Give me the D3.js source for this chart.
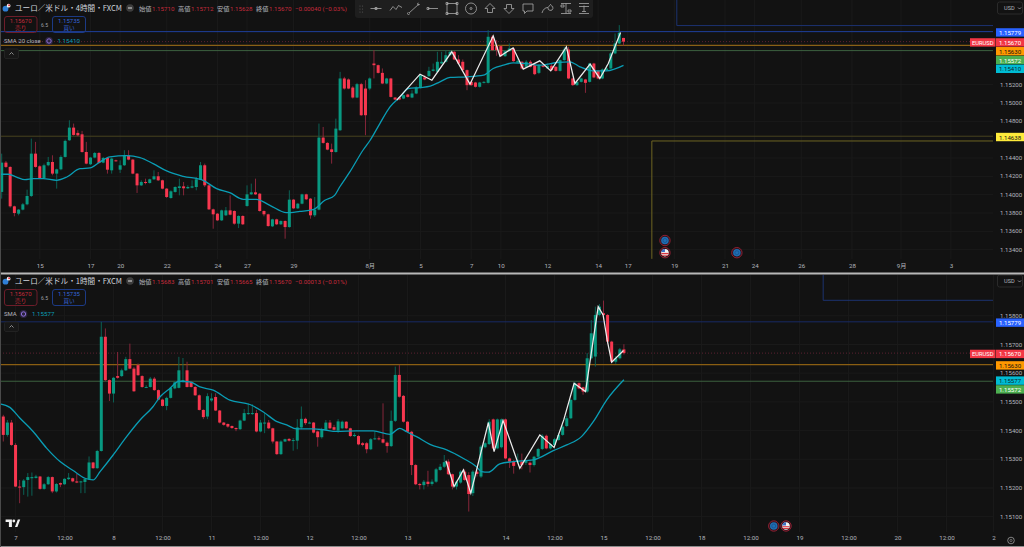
<!DOCTYPE html>
<html>
<head>
<meta charset="utf-8">
<script src="https://cdn.jsdelivr.net/npm/d3@7.9.0/dist/d3.min.js"></script>
<style>
  html, body { margin: 0; padding: 0; background: #121212; overflow: hidden; }
  svg { display: block; }
  text { font-family: Roboto, "Noto Sans CJK JP", sans-serif; }
  .jp { font-family: "Noto Sans CJK JP", sans-serif; }
</style>
</head>
<body>
<svg id="chart" width="1024" height="547"></svg>
<script>
// open, high, low, close
const candles4h = [
  [1.14030,1.14448,1.13957,1.14350],[1.14350,1.14368,1.14292,1.14303],[1.14303,1.14310,1.13859,1.13873],[1.13873,1.13880,1.13764,1.13800],
  [1.13793,1.13844,1.13775,1.13837],[1.13837,1.13910,1.13829,1.13895],[1.13895,1.14055,1.13884,1.13986],[1.13986,1.14612,1.13975,1.14448],
  [1.14448,1.14576,1.14295,1.14303],[1.14310,1.14321,1.14175,1.14182],[1.14182,1.14339,1.14175,1.14321],[1.14321,1.14412,1.14310,1.14357],
  [1.14357,1.14430,1.14212,1.14230],[1.14230,1.14284,1.14066,1.14277],[1.14277,1.14430,1.14266,1.14412],[1.14412,1.14601,1.14405,1.14587],
  [1.14594,1.14812,1.14587,1.14732],[1.14732,1.14776,1.14645,1.14652],[1.14674,1.14703,1.14637,1.14648],[1.14659,1.14696,1.14459,1.14466],
  [1.14466,1.14576,1.14332,1.14339],[1.14332,1.14412,1.14324,1.14405],[1.14405,1.14466,1.14397,1.14455],[1.14455,1.14466,1.14339,1.14346],
  [1.14350,1.14412,1.14343,1.14401],[1.14401,1.14412,1.14230,1.14273],[1.14266,1.14405,1.14230,1.14394],[1.14375,1.14383,1.14361,1.14368],
  [1.14273,1.14375,1.14237,1.14321],[1.14321,1.14485,1.14314,1.14423],[1.14430,1.14485,1.14375,1.14383],[1.14383,1.14390,1.14223,1.14230],
  [1.14230,1.14237,1.14019,1.14102],[1.14102,1.14157,1.14095,1.14139],[1.14139,1.14175,1.14113,1.14128],[1.14128,1.14175,1.14121,1.14168],
  [1.14168,1.14266,1.14161,1.14201],[1.14201,1.14248,1.14150,1.14157],[1.14157,1.14164,1.14059,1.14066],[1.14066,1.14073,1.13964,1.13975],
  [1.13964,1.14048,1.13957,1.14037],[1.14030,1.14091,1.14022,1.14084],[1.14073,1.14175,1.13993,1.14091],[1.14091,1.14139,1.13993,1.14070],
  [1.14070,1.14102,1.14062,1.14084],[1.14077,1.14157,1.14070,1.14091],[1.14084,1.14193,1.14048,1.14168],[1.14164,1.14357,1.14157,1.14321],
  [1.14321,1.14339,1.14084,1.14102],[1.14102,1.14110,1.13833,1.13840],[1.13840,1.13848,1.13629,1.13786],[1.13793,1.13800,1.13713,1.13720],
  [1.13720,1.13837,1.13713,1.13829],[1.13775,1.13866,1.13768,1.13829],[1.13829,1.13993,1.13775,1.13782],[1.13822,1.13829,1.13673,1.13684],
  [1.13684,1.13775,1.13636,1.13768],[1.13768,1.13775,1.13669,1.13677],[1.13877,1.14102,1.13869,1.14004],[1.14004,1.14121,1.13997,1.14026],
  [1.14026,1.14175,1.13997,1.14004],[1.14011,1.14019,1.13815,1.13822],[1.13822,1.13829,1.13764,1.13786],[1.13786,1.13793,1.13651,1.13658],
  [1.13655,1.13738,1.13647,1.13731],[1.13731,1.13738,1.13669,1.13677],[1.13677,1.13720,1.13669,1.13713],[1.13713,1.13720,1.13520,1.13647],
  [1.13647,1.14048,1.13640,1.13946],[1.13946,1.13953,1.13844,1.13851],[1.13851,1.13910,1.13844,1.13902],[1.13902,1.14011,1.13895,1.14004],
  [1.14004,1.14011,1.13942,1.13950],[1.13957,1.13964,1.13738,1.13775],[1.13775,1.13975,1.13757,1.13837],[1.13837,1.14776,1.13829,1.14623],
  [1.14623,1.14739,1.14557,1.14565],[1.14565,1.14572,1.14485,1.14492],[1.14495,1.14557,1.14339,1.14466],[1.14466,1.14830,1.14459,1.14721],
  [1.14703,1.15340,1.14696,1.15268],[1.15268,1.15286,1.15147,1.15158],[1.15257,1.15268,1.15151,1.15158],[1.15169,1.15184,1.15049,1.15060],
  [1.15060,1.15220,1.15053,1.15206],[1.15206,1.15220,1.14860,1.14867],[1.15158,1.15249,1.14649,1.14867],[1.15158,1.15279,1.15140,1.15268],
  [1.15431,1.15577,1.15268,1.15413],[1.15413,1.15420,1.15322,1.15329],[1.15329,1.15377,1.15206,1.15213],[1.15213,1.15275,1.15206,1.15268],
  [1.15268,1.15275,1.15060,1.15067],[1.15060,1.15067,1.15031,1.15038],[1.15060,1.15067,1.15031,1.15038],[1.15049,1.15093,1.15042,1.15086],
  [1.15093,1.15100,1.15060,1.15067],[1.15060,1.15140,1.15053,1.15104],[1.15104,1.15184,1.15097,1.15169],[1.15169,1.15315,1.15158,1.15304],
  [1.15279,1.15304,1.15249,1.15257],[1.15293,1.15395,1.15286,1.15351],[1.15351,1.15431,1.15344,1.15366],[1.15340,1.15559,1.15333,1.15450],
  [1.15431,1.15559,1.15424,1.15450],[1.15450,1.15577,1.15442,1.15522],[1.15522,1.15577,1.15515,1.15559],[1.15559,1.15570,1.15468,1.15475],
  [1.15475,1.15522,1.15424,1.15431],[1.15450,1.15475,1.15351,1.15359],[1.15359,1.15366,1.15140,1.15195],[1.15231,1.15238,1.15188,1.15195],
  [1.15224,1.15231,1.15169,1.15177],[1.15177,1.15231,1.15169,1.15224],[1.15220,1.15238,1.15213,1.15231],[1.15220,1.15795,1.15213,1.15723],
  [1.15723,1.15741,1.15570,1.15577],[1.15621,1.15686,1.15515,1.15577],[1.15621,1.15628,1.15504,1.15511],[1.15511,1.15577,1.15504,1.15566],
  [1.15566,1.15650,1.15559,1.15595],[1.15595,1.15602,1.15450,1.15457],[1.15442,1.15486,1.15435,1.15460],[1.15450,1.15457,1.15370,1.15377],
  [1.15395,1.15468,1.15388,1.15450],[1.15450,1.15468,1.15388,1.15395],[1.15413,1.15420,1.15304,1.15315],[1.15329,1.15424,1.15315,1.15413],
  [1.15413,1.15420,1.15388,1.15395],[1.15377,1.15431,1.15370,1.15406],[1.15406,1.15431,1.15351,1.15359],[1.15395,1.15402,1.15344,1.15351],
  [1.15351,1.15475,1.15344,1.15468],[1.15468,1.15613,1.15460,1.15584],[1.15584,1.15613,1.15260,1.15268],[1.15268,1.15275,1.15188,1.15195],
  [1.15195,1.15238,1.15188,1.15231],[1.15231,1.15275,1.15224,1.15268],[1.15257,1.15264,1.15111,1.15220],[1.15231,1.15439,1.15224,1.15431],
  [1.15431,1.15439,1.15271,1.15279],[1.15351,1.15359,1.15260,1.15268],[1.15268,1.15377,1.15260,1.15366],[1.15359,1.15413,1.15351,1.15377],
  [1.15377,1.15559,1.15370,1.15541],[1.15541,1.15759,1.15533,1.15650],[1.15650,1.15850,1.15642,1.15766],[1.15710,1.15712,1.15628,1.15670]
];

const candles1h = [
  [1.15449,1.15455,1.15362,1.15385],[1.15385,1.15437,1.15379,1.15428],[1.15428,1.15437,1.15347,1.15350],[1.15350,1.15356,1.15203,1.15205],
  [1.15205,1.15228,1.15147,1.15202],[1.15203,1.15231,1.15176,1.15226],[1.15228,1.15252,1.15170,1.15238],[1.15234,1.15254,1.15173,1.15238],
  [1.15235,1.15246,1.15233,1.15240],[1.15240,1.15242,1.15194,1.15197],[1.15197,1.15217,1.15194,1.15213],[1.15213,1.15242,1.15211,1.15238],
  [1.15238,1.15240,1.15182,1.15188],[1.15188,1.15217,1.15184,1.15214],[1.15217,1.15219,1.15203,1.15212],[1.15213,1.15234,1.15211,1.15232],
  [1.15231,1.15252,1.15228,1.15236],[1.15234,1.15236,1.15220,1.15223],[1.15223,1.15249,1.15217,1.15219],[1.15220,1.15225,1.15182,1.15223],
  [1.15221,1.15234,1.15182,1.15231],[1.15231,1.15310,1.15228,1.15289],[1.15289,1.15291,1.15267,1.15269],[1.15269,1.15333,1.15267,1.15329],
  [1.15329,1.15779,1.15327,1.15727],[1.15727,1.15756,1.15572,1.15576],[1.15576,1.15578,1.15503,1.15529],[1.15529,1.15587,1.15498,1.15584],
  [1.15590,1.15674,1.15581,1.15584],[1.15590,1.15616,1.15587,1.15610],[1.15610,1.15657,1.15608,1.15649],[1.15649,1.15703,1.15614,1.15616],
  [1.15616,1.15622,1.15535,1.15537],[1.15628,1.15634,1.15591,1.15593],[1.15590,1.15593,1.15549,1.15552],[1.15550,1.15558,1.15548,1.15552],
  [1.15552,1.15587,1.15550,1.15581],[1.15581,1.15587,1.15539,1.15541],[1.15541,1.15543,1.15506,1.15508],[1.15508,1.15511,1.15484,1.15486],
  [1.15486,1.15518,1.15471,1.15514],[1.15514,1.15552,1.15512,1.15549],[1.15547,1.15572,1.15544,1.15568],[1.15549,1.15657,1.15547,1.15610],
  [1.15570,1.15653,1.15568,1.15576],[1.15610,1.15640,1.15550,1.15552],[1.15570,1.15572,1.15550,1.15552],[1.15552,1.15555,1.15521,1.15523],
  [1.15523,1.15526,1.15470,1.15472],[1.15472,1.15474,1.15440,1.15447],[1.15449,1.15530,1.15440,1.15520],[1.15505,1.15530,1.15500,1.15512],
  [1.15517,1.15530,1.15468,1.15470],[1.15470,1.15472,1.15425,1.15428],[1.15428,1.15430,1.15417,1.15420],[1.15423,1.15425,1.15410,1.15414],
  [1.15416,1.15418,1.15406,1.15409],[1.15409,1.15411,1.15398,1.15405],[1.15405,1.15438,1.15402,1.15435],[1.15435,1.15475,1.15433,1.15461],
  [1.15458,1.15495,1.15455,1.15461],[1.15458,1.15492,1.15455,1.15461],[1.15461,1.15472,1.15394,1.15397],[1.15397,1.15437,1.15394,1.15428],
  [1.15426,1.15461,1.15391,1.15428],[1.15428,1.15437,1.15405,1.15408],[1.15408,1.15410,1.15355,1.15362],[1.15362,1.15364,1.15315,1.15318],
  [1.15318,1.15366,1.15315,1.15362],[1.15362,1.15372,1.15360,1.15370],[1.15371,1.15374,1.15362,1.15365],[1.15366,1.15374,1.15330,1.15367],
  [1.15365,1.15440,1.15335,1.15411],[1.15411,1.15484,1.15405,1.15441],[1.15441,1.15445,1.15420,1.15426],[1.15426,1.15432,1.15424,1.15428],
  [1.15428,1.15430,1.15390,1.15393],[1.15397,1.15400,1.15344,1.15377],[1.15377,1.15410,1.15372,1.15405],[1.15403,1.15437,1.15400,1.15428],
  [1.15428,1.15437,1.15405,1.15408],[1.15412,1.15420,1.15400,1.15403],[1.15400,1.15440,1.15392,1.15432],[1.15408,1.15435,1.15405,1.15431],
  [1.15431,1.15433,1.15405,1.15408],[1.15408,1.15410,1.15378,1.15381],[1.15381,1.15392,1.15378,1.15385],[1.15381,1.15384,1.15349,1.15352],
  [1.15356,1.15360,1.15345,1.15350],[1.15356,1.15360,1.15321,1.15335],[1.15335,1.15374,1.15332,1.15370],[1.15370,1.15396,1.15368,1.15373],
  [1.15373,1.15380,1.15366,1.15370],[1.15370,1.15495,1.15355,1.15358],[1.15358,1.15362,1.15323,1.15346],[1.15346,1.15470,1.15343,1.15434],
  [1.15434,1.15623,1.15430,1.15594],[1.15594,1.15629,1.15515,1.15518],[1.15521,1.15524,1.15428,1.15431],[1.15431,1.15433,1.15393,1.15396],
  [1.15396,1.15399,1.15245,1.15280],[1.15280,1.15283,1.15210,1.15213],[1.15214,1.15218,1.15195,1.15210],[1.15210,1.15228,1.15195,1.15222],
  [1.15222,1.15260,1.15205,1.15214],[1.15214,1.15230,1.15208,1.15222],[1.15222,1.15270,1.15218,1.15265],[1.15263,1.15284,1.15260,1.15274],
  [1.15274,1.15315,1.15270,1.15290],[1.15292,1.15300,1.15245,1.15248],[1.15248,1.15250,1.15195,1.15205],[1.15205,1.15226,1.15195,1.15222],
  [1.15219,1.15262,1.15215,1.15257],[1.15257,1.15265,1.15225,1.15228],[1.15245,1.15255,1.15118,1.15179],[1.15182,1.15262,1.15172,1.15257],
  [1.15257,1.15262,1.15240,1.15249],[1.15240,1.15350,1.15235,1.15344],[1.15342,1.15360,1.15338,1.15356],[1.15353,1.15440,1.15350,1.15431],
  [1.15439,1.15442,1.15335,1.15338],[1.15338,1.15442,1.15335,1.15439],[1.15342,1.15442,1.15338,1.15439],[1.15439,1.15442,1.15300,1.15303],
  [1.15303,1.15306,1.15270,1.15292],[1.15294,1.15298,1.15250,1.15277],[1.15290,1.15320,1.15285,1.15294],[1.15292,1.15320,1.15265,1.15280],
  [1.15288,1.15298,1.15280,1.15294],[1.15288,1.15292,1.15254,1.15280],[1.15280,1.15312,1.15275,1.15309],[1.15309,1.15340,1.15305,1.15336],
  [1.15336,1.15388,1.15332,1.15382],[1.15382,1.15386,1.15335,1.15338],[1.15338,1.15356,1.15334,1.15353],[1.15350,1.15375,1.15345,1.15370],
  [1.15367,1.15392,1.15365,1.15385],[1.15385,1.15420,1.15382,1.15414],[1.15416,1.15452,1.15412,1.15443],[1.15443,1.15510,1.15440,1.15507],
  [1.15507,1.15570,1.15504,1.15565],[1.15565,1.15568,1.15544,1.15547],[1.15551,1.15553,1.15525,1.15536],[1.15536,1.15670,1.15532,1.15652],
  [1.15652,1.15785,1.15648,1.15739],[1.15658,1.15832,1.15623,1.15803],[1.15803,1.15841,1.15798,1.15832],[1.15809,1.15853,1.15790,1.15803],
  [1.15803,1.15806,1.15702,1.15710],[1.15710,1.15713,1.15636,1.15640],[1.15640,1.15660,1.15633,1.15652],[1.15652,1.15688,1.15648,1.15683],
  [1.15683,1.15701,1.15665,1.15670]
];

// [candle index, price]
const sma4h = [
  [-0.4,1.14223],[1.6,1.14223],[3.5,1.14193],[5.5,1.14164],[7.5,1.14175],[9.8,1.14175],[13,1.14157],[15.4,1.14193],[18.5,1.14284],
  [20.9,1.14292],[23.2,1.14357],[25.6,1.14412],[29.5,1.14426],[32.7,1.14405],[35.8,1.14339],[39,1.14259],[42.9,1.14201],[47.6,1.14157],
  [50.8,1.14066],[53.9,1.14022],[57.1,1.13950],[60.2,1.13950],[63.4,1.13884],[67.3,1.13804],[70.5,1.13818],[73.6,1.13837],[76.4,1.13939],
  [78.7,1.13993],[79.9,1.14084],[82.3,1.14248],[85.4,1.14485],[87.1,1.14594],[89.4,1.14776],[91.8,1.14958],[94.2,1.15067],[96.1,1.15158],
  [98.9,1.15169],[101.3,1.15184],[103.6,1.15231],[106,1.15279],[109.9,1.15286],[113.9,1.15304],[116.2,1.15377],[118.6,1.15413],[120.9,1.15439],
  [124.1,1.15431],[127.2,1.15413],[131.2,1.15442],[134.3,1.15450],[136.7,1.15395],[139.8,1.15351],[143,1.15351],[147,1.15410]
];
const sma1h = [
  [-0.8,1.15493],[1.6,1.15481],[4.1,1.15443],[7.3,1.15397],[10.6,1.15339],[13.9,1.15292],[17.1,1.15261],[20,1.15234],[22,1.15228],
  [23.7,1.15257],[26.9,1.15315],[30.2,1.15379],[33.5,1.15437],[36.7,1.15484],[38.4,1.15518],[40.8,1.15547],[43,1.15572],[45.7,1.15570],
  [48.2,1.15552],[51.4,1.15541],[55.5,1.15506],[60.4,1.15491],[63.7,1.15465],[66.9,1.15432],[69.4,1.15420],[71.8,1.15406],[75.9,1.15406],
  [78.4,1.15403],[81.6,1.15397],[86.5,1.15399],[90.6,1.15399],[94.7,1.15387],[97.1,1.15408],[98.8,1.15396],[101.2,1.15379],[104.5,1.15352],
  [108.6,1.15333],[112.7,1.15303],[115.9,1.15274],[117.1,1.15257],[118.8,1.15255],[121.6,1.15284],[124.9,1.15292],[129.8,1.15298],
  [134.7,1.15330],[138,1.15350],[141.6,1.15379],[144.5,1.15431],[147.8,1.15507],[152,1.15577]
];

// hand drawn white zigzag, [candle index, price]
const zigzag4h = [
  [93.4,1.15031],[98.9,1.15315],[101.7,1.15249],[106.4,1.15559],[110.7,1.15206],[116.2,1.15733],[117.8,1.15511],[120.9,1.15602],[123.3,1.15370],
  [127.2,1.15460],[129.8,1.15351],[133.5,1.15613],[135.5,1.15213],[139.1,1.15424],[141.4,1.15268],[143.4,1.15431],[146.3,1.15770]
];
const zigzag1h = [
  [108.4,1.15295],[110.4,1.15205],[112.7,1.15263],[114.5,1.15182],[118.8,1.15428],[120.2,1.15327],[122.4,1.15435],[126.5,1.15269],[131.4,1.15385],
  [134.9,1.15341],[137.3,1.15439],[139.8,1.15565],[142.6,1.15536],[145.7,1.15832],[146.9,1.15803],[147.9,1.15716],[149,1.15638],[151.9,1.15679]
];

const priceTicks4h = [1.152,1.150,1.148,1.144,1.142,1.140,1.138,1.136,1.134];
const priceTicks1h = [1.158,1.157,1.156,1.155,1.154,1.153,1.152,1.151];

const timeTicks4h = [9,21,28,39,51,58,69,87,99,111,118,129,141,148,159,171,178,189,201,212.6,224.4];
const timeLabels4h = ['15','17','20','22','24','27','29','8月','5','7','10','12','14','17','19','21','24','26','28','9月','3'];
const timeTicks1h = [3,15,27,39,51,63,75,87,99,123,135,147,159,171,183,195,207,219,231,242.5];
const timeLabels1h = ['7','12:00','8','12:00','11','12:00','12','12:00','13','14','12:00','15','12:00','18','12:00','19','12:00','20','12:00','2'];

const levels4h = [1.15779,1.15670,1.15630,1.15572,1.15410,1.14638];
const levels1h = [1.15779,1.15670,1.15630,1.15577,1.15572];

// header read-outs
const ohlc4h = ['1.15710','1.15712','1.15628','1.15670','−0.00040 (−0.03%)'];
const ohlc1h = ['1.15683','1.15701','1.15665','1.15670','−0.00013 (−0.01%)'];
const ohlcNames = ['始値','高値','安値','終値'];

// calendar events, candle index on the future part of the axis
const events4h = [[156.8,'eu',0],[156.8,'us',1],[173.8,'eu',1]];
const events1h = [[188.7,'eu',1],[191.7,'us',1]];

const colors = { up: '#089981', down: '#f7374f', upWick: '#0b6155', downWick: '#86263a', sma: '#0a9db5', text: '#b2b5be', bg: '#121212', grid: '#1a1a1a' };
const tagColors = { 1.15779: '#2962ff', 1.15670: '#f23645', 1.15630: '#ff9800', 1.15572: '#4caf50', 1.15410: '#00bcd4', 1.15577: '#00bcd4', 1.14638: '#ffeb3b' };
const tagInk = { 1.15630: '#131313', 1.14638: '#131313', 1.15410: '#0d2a30', 1.15577: '#0d2a30' };

const svg = d3.select('#chart');
const W = 1024, chartRight = 993;
const defs = svg.append('defs');

function drawPane(cfg) {
    const { candles, sma, zigzag, priceTicks, timeTicks, timeLabels, levels, top, bottom, xs, ys, lineColors } = cfg;
    const clipId = 'clip' + top;
    defs.append('clipPath').attr('id', clipId).append('rect')
        .attr('x', 0).attr('y', top).attr('width', chartRight).attr('height', bottom - top);

    const x = d3.scaleLinear().domain([0, 100]).range([xs[0], xs[0] + xs[1] * 100]);
    const y = d3.scaleLinear().domain(ys.domain).range(ys.range);

    const g = svg.append('g');

    // grid
    const grid = g.append('g');
    grid.selectAll('line.v').data(timeTicks).join('line')
        .attr('x1', d => x(d)).attr('x2', d => x(d)).attr('y1', top).attr('y2', bottom)
        .attr('stroke', colors.grid);
    grid.selectAll('line.h').data(priceTicks).join('line')
        .attr('x1', 0).attr('x2', chartRight).attr('y1', d => y(d)).attr('y2', d => y(d))
        .attr('stroke', colors.grid);

    const plot = g.append('g').attr('clip-path', `url(#${clipId})`);

    // horizontal alerts / levels
    plot.selectAll('line.level').data(levels).join('line')
        .attr('x1', 0).attr('x2', chartRight)
        .attr('y1', d => y(d)).attr('y2', d => y(d))
        .attr('stroke', d => lineColors[d])
        .attr('stroke-width', d => d === 1.1563 ? 1.2 : 1)
        .attr('stroke-dasharray', d => d === 1.1567 ? '1 2' : null);

    cfg.extras(plot, x, y);

    // candles
    plot.selectAll('line.wick').data(candles).join('line')
        .attr('x1', (d, i) => x(i)).attr('x2', (d, i) => x(i))
        .attr('y1', d => y(d[1])).attr('y2', d => y(d[2]))
        .attr('stroke', d => d[3] >= d[0] ? colors.upWick : colors.downWick)
        .attr('stroke-width', 1);
    plot.selectAll('rect.body').data(candles).join('rect')
        .attr('x', (d, i) => x(i) - 1.5)
        .attr('width', 3)
        .attr('y', d => y(Math.max(d[0], d[3])))
        .attr('height', d => Math.max(1, Math.abs(y(d[0]) - y(d[3]))))
        .attr('fill', d => d[3] >= d[0] ? colors.up : colors.down);

    const line = d3.line().x(d => x(d[0])).y(d => y(d[1]));
    plot.append('path').attr('d', line.curve(d3.curveMonotoneX)(sma)).attr('fill', 'none').attr('stroke', colors.sma).attr('stroke-width', 1.3);
    plot.append('path').attr('d', line.curve(d3.curveLinear)(zigzag)).attr('fill', 'none').attr('stroke', '#ececec').attr('stroke-width', 1.25);

    // axes
    const xAxis = d3.axisBottom(x).tickValues(timeTicks).tickSize(0).tickFormat((d, i) => timeLabels[i]);
    const ax = g.append('g').attr('transform', `translate(0,${cfg.timeAxisY})`).call(xAxis);
    ax.select('.domain').remove();
    ax.selectAll('text').attr('fill', colors.text).attr('font-size', 6.2).attr('font-family', 'Roboto,"Noto Sans CJK JP",sans-serif').attr('dy', 0).attr('y', 0);

    const yAxis = d3.axisRight(y).tickValues(priceTicks).tickSize(0).tickFormat(d3.format('.5f'));
    const ay = g.append('g').attr('transform', `translate(${chartRight + 7},0)`).call(yAxis);
    ay.select('.domain').remove();
    ay.selectAll('text').attr('fill', colors.text).attr('font-size', 6.1).attr('font-family', 'Roboto,sans-serif').attr('x', 0).attr('dy', '0.26em');

    // price tags on the axis, pushed down so they do not overlap
    let last = -100;
    levels.forEach(p => {
        const cy = Math.max(y(p) + 0.8, last + 8.8);
        last = cy;
        g.append('rect').attr('x', 996).attr('y', cy - 4.2).attr('width', 28).attr('height', 8.4)
            .attr('fill', tagColors[p]);
        g.append('text').attr('x', 1010).attr('y', cy + 2.5).attr('text-anchor', 'middle')
            .attr('font-size', 6.1).attr('fill', tagInk[p] || '#fff').text(p.toFixed(5));
        if (p === 1.1567) {
            g.append('rect').attr('x', 970).attr('y', cy - 4.2).attr('width', 25.5).attr('height', 8.4)
                .attr('fill', tagColors[p]);
            g.append('text').attr('x', 982.7).attr('y', cy + 2.5).attr('text-anchor', 'middle')
                .attr('font-size', 5.8).attr('fill', '#fff').text('EURUSD');
        }
    });

    // USD selector
    g.append('rect').attr('x', 997.5).attr('y', top + cfg.usdOffset).attr('width', 25).attr('height', 12).attr('rx', 2)
        .attr('fill', 'none').attr('stroke', '#2a2a2a');
    g.append('text').attr('x', 1004).attr('y', top + cfg.usdOffset + 8).attr('font-size', 5.6).attr('fill', colors.text).text('USD');
    g.append('path').attr('d', `M1018,${top + cfg.usdOffset + 5.5}l1.5,1.5l1.5,-1.5`).attr('fill', 'none').attr('stroke', colors.text).attr('stroke-width', 0.7);

    // calendar markers
    cfg.events.forEach(([idx, kind, row]) => {
        drawEvent(x(idx), cfg.eventY[row], kind);
    });

    return { x, y };
}

function drawEvent(cx, cy, kind) {
    const e = svg.append('g').attr('transform', `translate(${cx},${cy})`);
    e.append('circle').attr('r', 5.2).attr('fill', '#2a1418').attr('stroke', '#8f1f33').attr('stroke-width', 1);
    if (kind === 'eu') {
        e.append('circle').attr('r', 3.8).attr('fill', '#1f6db3');
        e.append('circle').attr('r', 2).attr('fill', 'none').attr('stroke', '#174f85').attr('stroke-width', 0.7);
    } else {
        e.append('circle').attr('r', 3.8).attr('fill', '#f2f2f2');
        e.append('rect').attr('x', -3.6).attr('y', 0.2).attr('width', 7.2).attr('height', 1.1).attr('fill', '#d8343f');
        e.append('rect').attr('x', -3).attr('y', 2).attr('width', 6).attr('height', 1).attr('fill', '#d8343f');
        e.append('path').attr('d', 'M-3.7,-0.6A3.8,3.8 0 0 1 0,-3.8V-0.6Z').attr('fill', '#3b6fc4');
    }
}

function drawHeader(cfg) {
    const { top, name, ohlc, smaLabel, smaValue, smaX } = cfg;
    const h = svg.append('g').attr('transform', `translate(0,${top})`);
    // symbol dots
    h.append('circle').attr('cx', 5.5).attr('cy', 8.7).attr('r', 2.9).attr('fill', '#2f7fd6');
    h.append('circle').attr('cx', 8.6).attr('cy', 5.7).attr('r', 1.9).attr('fill', '#f3f3f3');
    h.append('circle').attr('cx', 9.1).attr('cy', 5.2).attr('r', 1).attr('fill', '#d8343f');
    h.append('text').attr('class', 'jp').attr('x', 15).attr('y', 11).attr('font-size', 7.6).attr('fill', '#d1d4dc').text(name);
    h.append('circle').attr('cx', 130).attr('cy', 8).attr('r', 3.8).attr('fill', '#3d3d3d');
    h.append('rect').attr('x', 128).attr('y', 7.5).attr('width', 4).attr('height', 1).attr('fill', '#ddd');
    const nameX = [139, 178, 217, 256], valX = [152, 191, 230, 269];
    ohlcNames.forEach((n, i) => {
        h.append('text').attr('class', 'jp').attr('x', nameX[i]).attr('y', 10.8).attr('font-size', 6.2).attr('fill', '#b2b5be').text(n);
        h.append('text').attr('x', valX[i]).attr('y', 10.8).attr('font-size', 6.2).attr('fill', '#c52a3c').text(ohlc[i]);
    });
    h.append('text').attr('x', 295).attr('y', 10.8).attr('font-size', 6.2).attr('fill', '#c52a3c').text(ohlc[4]);

    // sell / buy boxes
    h.append('rect').attr('x', 4.5).attr('y', 16.5).attr('width', 32.5).attr('height', 16).attr('rx', 2.5).attr('fill', 'none').attr('stroke', '#6d1d2a');
    h.append('text').attr('x', 20.7).attr('y', 23).attr('text-anchor', 'middle').attr('font-size', 6).attr('fill', '#c52a3c').text('1.15670');
    h.append('text').attr('class', 'jp').attr('x', 20.7).attr('y', 30).attr('text-anchor', 'middle').attr('font-size', 5.6).attr('fill', '#c52a3c').text('売り');
    h.append('text').attr('x', 44.5).attr('y', 26.5).attr('text-anchor', 'middle').attr('font-size', 5).attr('fill', '#a0a3aa').text('6.5');
    h.append('rect').attr('x', 52.5).attr('y', 16.5).attr('width', 33).attr('height', 16).attr('rx', 2.5).attr('fill', 'none').attr('stroke', '#1c3a85');
    h.append('text').attr('x', 69).attr('y', 23).attr('text-anchor', 'middle').attr('font-size', 6).attr('fill', '#3565d8').text('1.15735');
    h.append('text').attr('class', 'jp').attr('x', 69).attr('y', 30).attr('text-anchor', 'middle').attr('font-size', 5.6).attr('fill', '#3565d8').text('買い');

    // indicator legend
    h.append('text').attr('x', 4).attr('y', 43).attr('font-size', 6).attr('fill', '#b2b5be').text(smaLabel);
    h.append('circle').attr('cx', smaX).attr('cy', 41).attr('r', 3.9).attr('fill', '#2c2440');
    h.append('circle').attr('cx', smaX).attr('cy', 41).attr('r', 2.2).attr('fill', 'none').attr('stroke', '#8c6fd8').attr('stroke-width', 1);
    h.append('text').attr('x', smaX + 8.5).attr('y', 43).attr('font-size', 6.2).attr('fill', '#0a9db5').text(smaValue);

    // collapse button
    h.append('rect').attr('x', 4.5).attr('y', 49).attr('width', 14).attr('height', 9.5).attr('rx', 1.5).attr('fill', '#171717').attr('stroke', '#222');
    h.append('path').attr('d', 'M9.5,54.5l2,-2l2,2').attr('fill', 'none').attr('stroke', '#aaa').attr('stroke-width', 0.8);
}

drawPane({
    candles: candles4h, sma: sma4h, zigzag: zigzag4h, priceTicks: priceTicks4h,
    timeTicks: timeTicks4h, timeLabels: timeLabels4h, levels: levels4h,
    top: 0, bottom: 259, timeAxisY: 268, usdOffset: 2,
    xs: [1.7, 4.23],
    ys: { domain: [1.134, 1.152], range: [249.7, 84.7] },
    lineColors: { 1.15779: '#1e3f9c', 1.1567: '#5b2030', 1.1563: '#8a6016', 1.15572: '#3c613f', 1.1541: 'none', 1.14638: '#47431f' },
    events: events4h, eventY: [240.5, 252.7],
    extras: (plot, x, y) => {
        const stepLine = d3.line().x(d => x(d[0])).y(d => y(d[1]));
        // yellow long-position box and blue box corner
        plot.append('path').attr('d', stepLine([[153.7, 1.1330], [153.7, 1.14586], [240, 1.14586]]))
            .attr('fill', 'none').attr('stroke', '#6e6522').attr('stroke-width', 1);
        plot.append('path').attr('d', stepLine([[159.6, 1.1618], [159.6, 1.15845], [240, 1.15845]]))
            .attr('fill', 'none').attr('stroke', '#1c3270').attr('stroke-width', 1);
    }
});

drawPane({
    candles: candles1h, sma: sma1h, zigzag: zigzag1h, priceTicks: priceTicks1h,
    timeTicks: timeTicks1h, timeLabels: timeLabels1h, levels: levels1h,
    top: 275, bottom: 532, timeAxisY: 540, usdOffset: 0,
    xs: [3.3, 4.083],
    ys: { domain: [1.151, 1.158], range: [516.7, 315.8] },
    lineColors: { 1.15779: '#182a63', 1.1567: '#5b2030', 1.1563: '#8a5e12', 1.15577: 'none', 1.15572: '#3c613f' },
    events: events1h, eventY: [526, 526],
    extras: (plot, x, y) => {
        const stepLine = d3.line().x(d => x(d[0])).y(d => y(d[1]));
        plot.append('path').attr('d', stepLine([[200.8, 1.1596], [200.8, 1.15854], [250, 1.15854]]))
            .attr('fill', 'none').attr('stroke', '#1c3270').attr('stroke-width', 1);
    }
});

// headers go over the candles
drawHeader({ top: 0, name: 'ユーロ／米ドル・4時間・FXCM', ohlc: ohlc4h, smaLabel: 'SMA 20 close', smaValue: '1.15410', smaX: 49 });
drawHeader({ top: 273, name: 'ユーロ／米ドル・1時間・FXCM', ohlc: ohlc1h, smaLabel: 'SMA', smaValue: '1.15577', smaX: 23.5 });

// drawing toolbar
const toolbar = svg.append('g');
toolbar.append('rect').attr('x', 355).attr('y', -4).attr('width', 238).attr('height', 22).attr('rx', 3).attr('fill', '#1e1e1e');
toolbar.selectAll('circle.grip').data([[360, 6], [362.5, 6], [360, 9], [362.5, 9], [360, 12], [362.5, 12]]).join('circle')
    .attr('cx', d => d[0]).attr('cy', d => d[1]).attr('r', 0.6).attr('fill', '#555');
const toolX = [376, 396, 414, 433, 452, 471, 490, 509, 528, 547, 566, 584];
const toolPaths = [
    'M-5.5,0H5.5M-1,-1h2v2h-2z',
    'M-6,2L-3,-2L0,1L2.5,-3L6,-1',
    'M-5,4.5L5,-4.5M-5.5,4a1,1 0 1 0 1,1M4.5,-5.5a1,1 0 1 0 1,1',
    'M-5,0H5M-6,-1h2v2h-2z',
    'M-5,-5H5V5H-5ZM-6,-6h2v2h-2zM4,-6h2v2h-2zM-6,4h2v2h-2zM4,4h2v2h-2z',
    'M5.5,0A5.5,5.5 0 1 1 -5.5,0A5.5,5.5 0 1 1 5.5,0M1,0A1,1 0 1 1 -1,0A1,1 0 1 1 1,0',
    'M0,-5L5,0H2.5V4H-2.5V0H-5Z',
    'M0,5L5,0H2.5V-4H-2.5V0H-5Z',
    'M-5,-4.5H5V2.5H-1L-3.5,5V2.5H-5Z',
    'M-5,4.5C-4,1 -2,-1 1,-1L4,-4.5M1,-1a2.5,2.5 0 1 0 3,-2',
    'M-5,-5H5M-5,5H5M0,-5V5M-5,-3.5H-2V-1.5H-5ZM2,1.5H5V3.5H2Z',
    'M-5,-5H5M-5,5H5M0,-3V3M-5,-2H5M-2,3H2'
];
toolbar.selectAll('path').data(toolPaths).join('path')
    .attr('d', d => d)
    .attr('transform', (d, i) => `translate(${toolX[i]},8.5)`)
    .attr('fill', 'none').attr('stroke', '#a8a8a8').attr('stroke-width', 0.8);

// TradingView mark
svg.append('path').attr('d', 'M5.6,519.5h6.3v7.5h-3v-5h-3.3zM15,527l2.8,-7.5h2.4l-2.8,7.5z').attr('fill', '#f0f0f0');
svg.append('circle').attr('cx', 13.8).attr('cy', 521).attr('r', 1.4).attr('fill', '#f0f0f0');

// settings glyph bottom right
svg.append('circle').attr('cx', 1011).attr('cy', 540.5).attr('r', 3.3).attr('fill', 'none').attr('stroke', '#9a9a9a').attr('stroke-width', 0.8);
svg.append('circle').attr('cx', 1011).attr('cy', 540.5).attr('r', 1.1).attr('fill', 'none').attr('stroke', '#9a9a9a').attr('stroke-width', 0.6);

// pane separator and page border
svg.append('rect').attr('x', 0).attr('y', 272.5).attr('width', W).attr('height', 2).attr('fill', '#b8b8b8');
svg.append('rect').attr('x', 0).attr('y', 546).attr('width', W).attr('height', 1).attr('fill', '#8c8c8c');
svg.append('rect').attr('x', 0).attr('y', 0).attr('width', 1).attr('height', 547).attr('fill', '#4a4a4a');
</script>
</body>
</html>
